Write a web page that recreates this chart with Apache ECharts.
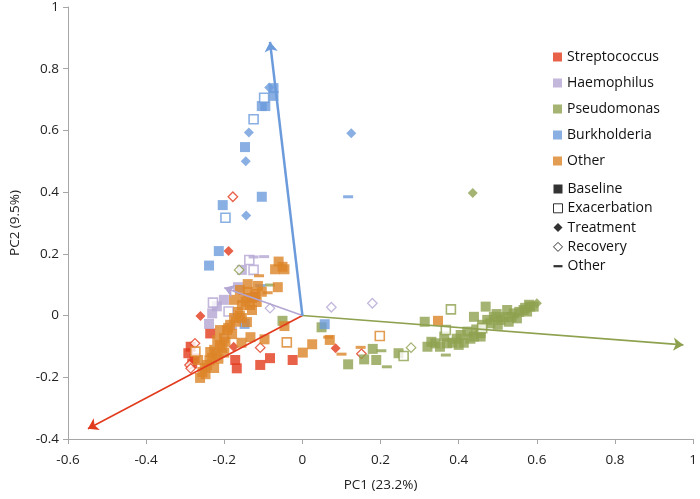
<!DOCTYPE html>
<html>
<head>
<meta charset="utf-8">
<script src="https://cdn.jsdelivr.net/npm/echarts@6/dist/echarts.min.js"></script>
<style>
html, body { margin: 0; padding: 0; background: #fff; }
#chart { width: 700px; height: 499px; }
</style>
</head>
<body>
<div id="chart"></div>
<script>
var taxa = ['Streptococcus', 'Haemophilus', 'Pseudomonas', 'Burkholderia', 'Other'];
var taxaColors = ['#e23a1c', '#b4a6d3', '#8ea14f', '#6c9bdc', '#dc8428'];
var sampleTypes = ['Baseline', 'Exacerbation', 'Treatment', 'Recovery', 'Other'];

// [PC1, PC2] per taxon and sample type
var streptoBaseline = [[-0.286, -0.101], [-0.292, -0.122], [-0.276, -0.139], [-0.282, -0.155], [-0.172, -0.144],
  [-0.168, -0.171], [-0.108, -0.160], [-0.083, -0.138], [-0.025, -0.144], [-0.236, -0.058], [-0.122, 0.061]];
var streptoExac = [];
var streptoTreat = [[-0.189, 0.209], [-0.261, -0.001], [-0.176, -0.101], [0.085, -0.106]];
var streptoRecov = [[-0.178, 0.385], [-0.108, -0.104], [0.151, -0.124], [-0.275, -0.090], [-0.289, -0.160], [-0.286, -0.171]];
var streptoOther = [];

var haemoBaseline = [[-0.165, 0.092], [-0.201, 0.051], [-0.231, 0.007], [-0.239, -0.027], [-0.155, 0.148], [-0.219, 0.030]];
var haemoExac = [[-0.136, 0.180], [-0.125, 0.148], [-0.229, 0.042], [-0.189, 0.013]];
var haemoTreat = [];
var haemoRecov = [[-0.083, 0.024], [0.074, 0.027], [0.179, 0.040]];
var haemoOther = [[-0.098, 0.191], [-0.180, -0.041], [-0.125, 0.190]];

var pseudoBaseline = [[-0.051, -0.017], [0.049, -0.038], [0.117, -0.158], [0.158, -0.142], [0.180, -0.108],
  [0.189, -0.144], [0.246, -0.122], [0.313, -0.020], [0.320, -0.101], [0.352, -0.101], [0.363, -0.068],
  [0.384, -0.088], [0.405, -0.063], [0.413, -0.088], [0.422, -0.052], [0.439, -0.068], [0.439, -0.004],
  [0.456, -0.057], [0.469, 0.029], [0.473, -0.014], [0.481, -0.025], [0.490, -0.004], [0.507, -0.014],
  [0.524, 0.018], [0.528, -0.020], [0.541, 0.007], [0.549, -0.009], [0.566, 0.018], [0.575, 0.013],
  [0.583, 0.029], [0.592, 0.029], [0.456, -0.068], [0.400, -0.095], [0.340, -0.090], [0.430, -0.075],
  [0.500, -0.030], [0.515, -0.005], [0.555, 0.012], [0.330, -0.085], [0.370, -0.090], [0.395, -0.075],
  [0.445, -0.045], [0.460, -0.030], [0.497, 0.005], [0.535, -0.005], [0.570, 0.025], [0.580, 0.035]];
var pseudoExac = [[0.380, 0.020], [0.259, -0.131], [0.367, -0.047], [0.460, -0.041]];
var pseudoTreat = [[0.436, 0.397], [0.600, 0.040]];
var pseudoRecov = [[-0.162, 0.148], [0.278, -0.104]];
var pseudoOther = [[-0.083, 0.099], [0.202, -0.114], [0.216, -0.166], [0.367, -0.128]];

var burkBaseline = [[-0.074, 0.737], [-0.074, 0.712], [-0.104, 0.679], [-0.095, 0.679], [-0.147, 0.546],
  [-0.104, 0.385], [-0.204, 0.358], [-0.214, 0.209], [-0.239, 0.162], [0.057, -0.028], [-0.148, -0.027]];
var burkExac = [[-0.098, 0.706], [-0.125, 0.636], [-0.197, 0.317]];
var burkTreat = [[-0.085, 0.739], [-0.137, 0.593], [-0.145, 0.500], [-0.144, 0.324], [0.125, 0.591]];
var burkRecov = [];
var burkOther = [[0.117, 0.385], [-0.108, 0.097]];

var otherBaseline = [[-0.061, 0.175], [-0.051, 0.158], [-0.070, 0.150], [-0.046, 0.150], [-0.063, 0.092],
  [-0.046, -0.034], [0.070, -0.079], [0.025, -0.093], [0.001, -0.120], [-0.097, -0.077], [-0.133, -0.070],
  [-0.156, -0.088], [0.347, -0.017],
  [-0.256, -0.183], [-0.244, -0.160], [-0.231, -0.137], [-0.226, -0.111], [-0.211, -0.095], [-0.201, -0.073],
  [-0.193, -0.047], [-0.185, -0.030], [-0.175, -0.008], [-0.165, 0.012], [-0.155, 0.034], [-0.150, 0.057],
  [-0.140, 0.077], [-0.129, 0.057], [-0.134, 0.034], [-0.155, -0.008], [-0.142, -0.021], [-0.117, 0.044],
  [-0.160, 0.083], [-0.175, 0.051], [-0.218, -0.079], [-0.236, -0.118], [-0.190, -0.040], [-0.211, -0.047],
  [-0.262, -0.202], [-0.267, -0.144], [-0.226, -0.170], [-0.104, 0.077], [-0.114, 0.096], [-0.140, 0.102],
  [-0.129, 0.018], [-0.250, -0.170], [-0.238, -0.145], [-0.220, -0.125], [-0.205, -0.105], [-0.197, -0.085],
  [-0.180, -0.060], [-0.170, -0.020], [-0.160, 0.000], [-0.145, 0.045], [-0.120, 0.070], [-0.248, -0.190],
  [-0.215, -0.140], [-0.200, -0.120]];
var otherExac = [[-0.040, -0.087], [0.198, -0.066], [-0.274, -0.117]];
var otherTreat = [];
var otherRecov = [];
var otherOther = [[-0.111, 0.129], [-0.089, 0.074], [0.066, -0.070], [0.100, -0.125], [0.149, -0.103]];

// biplot loading vectors (tip coordinates), from the origin
var loadingTaxa = ['Streptococcus', 'Haemophilus', 'Pseudomonas', 'Burkholderia'];
var loadingTips = [[-0.549, -0.367], [-0.200, 0.090], [0.975, -0.095], [-0.083, 0.887]];

var points = [
  [streptoBaseline, streptoExac, streptoTreat, streptoRecov, streptoOther],
  [haemoBaseline, haemoExac, haemoTreat, haemoRecov, haemoOther],
  [pseudoBaseline, pseudoExac, pseudoTreat, pseudoRecov, pseudoOther],
  [burkBaseline, burkExac, burkTreat, burkRecov, burkOther],
  [otherBaseline, otherExac, otherTreat, otherRecov, otherOther]
];

var font = 'Open Sans';

function markerStyle(type, color) {
  if (type === 'Baseline') return { symbol: 'rect', symbolSize: 10, itemStyle: { color: color } };
  if (type === 'Exacerbation') return { symbol: 'rect', symbolSize: 9, itemStyle: { color: '#fff', borderColor: color, borderWidth: 1.6 } };
  if (type === 'Treatment') return { symbol: 'diamond', symbolSize: 10, itemStyle: { color: color } };
  if (type === 'Recovery') return { symbol: 'diamond', symbolSize: 9.5, itemStyle: { color: '#fff', borderColor: color, borderWidth: 1.3 } };
  return { symbol: 'rect', symbolSize: [10, 3], itemStyle: { color: color } };
}

var series = [];
taxa.forEach(function (t, i) {
  sampleTypes.forEach(function (s, j) {
    var m = markerStyle(s, taxaColors[i]);
    series.push({
      name: t + ' / ' + s,
      type: 'scatter',
      data: points[i][j],
      symbol: m.symbol,
      symbolSize: m.symbolSize,
      itemStyle: m.itemStyle,
      z: 2,
      silent: true
    });
  });
});

series.push({
  type: 'lines',
  coordinateSystem: 'cartesian2d',
  symbol: ['none', 'arrow'],
  symbolSize: 10,
  z: 3,
  silent: true,
  data: loadingTips.map(function (p, k) {
    var c = taxaColors[taxa.indexOf(loadingTaxa[k])];
    return { coords: [[0, 0], p], lineStyle: { color: c, width: k === 3 ? 2.5 : 1.6, opacity: 1 } };
  })
});

// legend-only series
var legendTaxa = taxa.map(function (t, i) {
  series.push({ name: t, type: 'scatter', data: [], itemStyle: { color: taxaColors[i] } });
  return { name: t, icon: 'rect', itemStyle: { color: taxaColors[i], borderWidth: 0 } };
});
var typeIcons = [
  { icon: 'rect', itemStyle: { color: '#000', borderWidth: 0 } },
  { icon: 'rect', itemStyle: { color: '#fff', borderColor: '#000', borderWidth: 1 } },
  { icon: 'diamond', itemStyle: { color: '#000', borderWidth: 0 } },
  { icon: 'diamond', itemStyle: { color: '#fff', borderColor: '#000', borderWidth: 1 } },
  { icon: 'path://M0,4H10V6.5H0Z', itemStyle: { color: '#000', borderWidth: 0 } }
];
var legendTypes = sampleTypes.map(function (s, j) {
  var name = j === 4 ? 'Other ' : s;
  series.push({ name: name, type: 'scatter', data: [], itemStyle: { color: '#000' } });
  return { name: name, icon: typeIcons[j].icon, itemStyle: typeIcons[j].itemStyle };
});

var chart = echarts.init(document.getElementById('chart'));
chart.setOption({
  backgroundColor: '#fff',
  animation: false,
  textStyle: { fontFamily: font },
  grid: { left: 65, right: 6, top: 7, bottom: 60 },
  legend: [{
    orient: 'vertical',
    left: 548,
    top: 45,
    itemWidth: 9,
    itemHeight: 9,
    itemGap: 12,
    selectedMode: false,
    textStyle: { fontSize: 14, color: '#111', lineHeight: 14, fontFamily: font },
    data: legendTaxa
  }, {
    orient: 'vertical',
    left: 548,
    top: 177,
    itemWidth: 9,
    itemHeight: 9,
    itemGap: 5.3,
    selectedMode: false,
    textStyle: { fontSize: 14, color: '#111', lineHeight: 14, fontFamily: font },
    data: legendTypes
  }],
  xAxis: {
    type: 'value',
    min: -0.6,
    max: 1,
    interval: 0.2,
    name: 'PC1 (23.2%)',
    nameLocation: 'middle',
    nameGap: 39,
    nameTextStyle: { fontSize: 13.5, color: '#222' },
    axisLine: { onZero: false, lineStyle: { color: '#a6a6a6' } },
    axisTick: { length: 5, lineStyle: { color: '#a6a6a6' } },
    axisLabel: { fontSize: 13.5, color: '#222', margin: 14 },
    splitLine: { show: false }
  },
  yAxis: {
    type: 'value',
    min: -0.4,
    max: 1,
    interval: 0.2,
    name: 'PC2 (9.5%)',
    nameLocation: 'middle',
    nameGap: 46,
    nameTextStyle: { fontSize: 13.5, color: '#222' },
    axisLine: { onZero: false, lineStyle: { color: '#a6a6a6' } },
    axisTick: { length: 5, lineStyle: { color: '#a6a6a6' } },
    axisLabel: { fontSize: 13.5, color: '#222', margin: 9 },
    splitLine: { show: false }
  },
  series: series
});
</script>
</body>
</html>
